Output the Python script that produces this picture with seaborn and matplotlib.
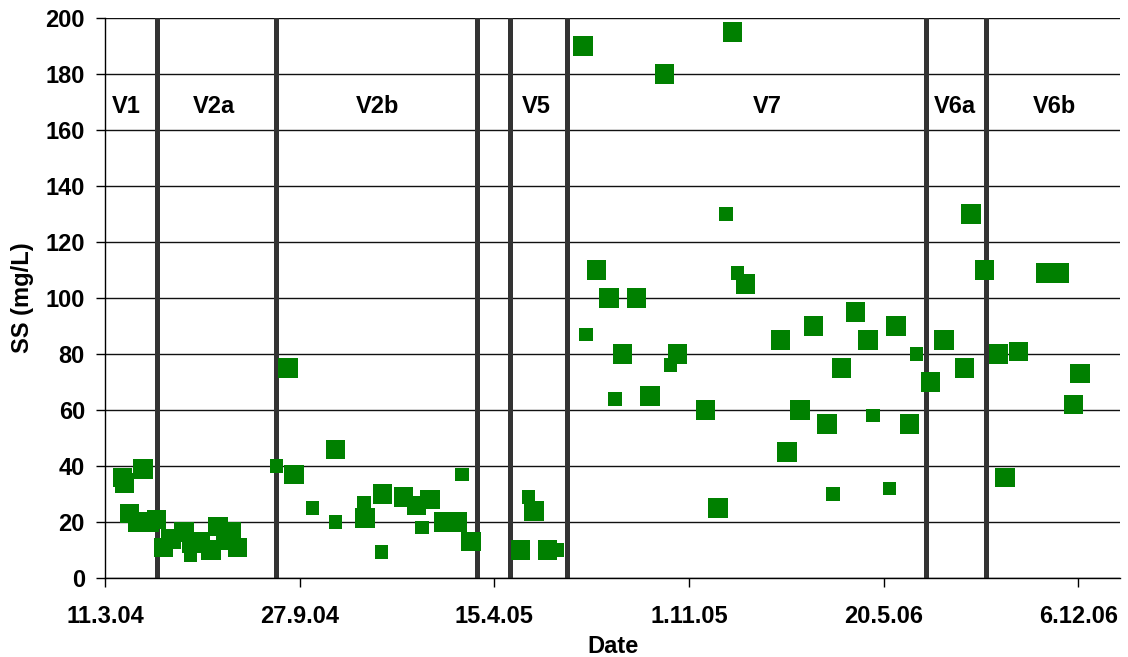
import matplotlib
matplotlib.use("Agg")
import matplotlib.pyplot as plt
import seaborn as sns
import pandas as pd

# ---- data ----
dates = [
    "2004-03-29", "2004-03-31", "2004-04-05", "2004-04-14", "2004-04-19", "2004-04-25",
    "2004-05-03", "2004-05-10", "2004-05-18", "2004-05-31", "2004-06-07", "2004-06-08",
    "2004-06-17", "2004-06-28", "2004-07-05", "2004-07-13", "2004-07-19", "2004-07-25",
    "2004-09-03", "2004-09-15", "2004-09-21", "2004-10-10", "2004-11-03", "2004-11-03",
    "2004-12-02", "2004-12-03", "2004-12-21", "2004-12-20", "2005-01-12", "2005-01-25",
    "2005-02-08", "2005-01-31", "2005-02-22", "2005-03-08", "2005-03-13", "2005-03-22",
    "2005-05-20", "2005-05-26", "2005-05-12", "2005-06-09", "2005-06-19",
    "2005-07-15", "2005-07-18", "2005-07-29", "2005-08-11", "2005-08-17", "2005-08-25",
    "2005-09-08", "2005-09-22", "2005-10-07", "2005-10-13", "2005-10-20", "2005-11-18",
    "2005-12-01", "2005-12-09", "2005-12-16", "2005-12-21", "2005-12-29", "2006-02-03",
    "2006-02-10", "2006-02-23", "2006-03-09", "2006-03-23", "2006-03-29", "2006-04-07",
    "2006-04-21", "2006-05-04", "2006-05-09", "2006-05-26", "2006-06-02", "2006-06-16",
    "2006-06-23",
    "2006-07-07", "2006-07-21", "2006-08-11", "2006-08-18", "2006-09-01",
    "2006-09-15", "2006-09-22", "2006-10-06", "2006-11-03", "2006-11-17", "2006-12-01",
    "2006-12-08",
]
ss_values = [
    36, 34, 23, 20, 39, 20,
    21, 11, 14, 16.5, 8, 12.5,
    13, 10, 18.5, 13.5, 16.5, 11,
    40, 75, 37, 25, 46, 20,
    27, 21.5, 30, 9.3, 29, 26,
    28, 18, 20, 20, 37, 13,
    29, 24, 10, 10, 10,
    190, 87, 110, 100, 64, 80,
    100, 65, 180, 76, 80, 60,
    25, 130, 195, 109, 105, 85,
    45, 60, 90, 55, 30, 75,
    95, 85, 58, 32, 90, 55,
    80,
    70, 85, 75, 130, 110,
    80, 36, 81, 109, 109, 62,
    73,
]
marker_kind = [
    "L", "L", "L", "L", "L", "L",
    "L", "L", "L", "L", "S", "L",
    "L", "L", "L", "L", "L", "L",
    "S", "L", "L", "S", "L", "S",
    "S", "L", "L", "S", "L", "L",
    "L", "S", "L", "L", "S", "L",
    "S", "L", "L", "L", "S",
    "L", "S", "L", "L", "S", "L",
    "L", "L", "L", "S", "L", "L",
    "L", "S", "L", "S", "L", "L",
    "L", "L", "L", "L", "S", "L",
    "L", "L", "S", "S", "L", "L",
    "S",
    "L", "L", "L", "L", "L",
    "L", "L", "L", "L", "L", "L",
    "L",
]
phase_boundaries = ["2004-05-03", "2004-09-03", "2005-03-28", "2005-05-01",
                    "2005-06-29", "2006-07-03", "2006-09-02"]
phase_names = ["V1", "V2a", "V2b", "V5", "V7", "V6a", "V6b"]
phase_label_dates = ["2004-04-02", "2004-07-01", "2004-12-16", "2005-05-28",
                     "2006-01-21", "2006-08-01", "2006-11-12"]
xtick_dates = ["2004-03-11", "2004-09-27", "2005-04-15", "2005-11-01",
               "2006-05-20", "2006-12-06"]
xtick_labels = ["11.3.04", "27.9.04", "15.4.05", "1.11.05", "20.5.06", "6.12.06"]
yticks = list(range(0, 201, 20))
x_limits = ["2004-03-11", "2007-01-18"]

df = pd.DataFrame({"Date": pd.to_datetime(dates), "SS": ss_values, "kind": marker_kind})

# ---- style ----
sns.set_theme(style="white")
plt.rcParams["font.family"] = ["Liberation Sans", "DejaVu Sans"]
plt.rcParams["font.weight"] = "bold"
plt.rcParams["text.color"] = "black"
plt.rcParams["axes.labelcolor"] = "black"
plt.rcParams["xtick.color"] = "black"
plt.rcParams["ytick.color"] = "black"

fig, ax = plt.subplots(figsize=(11.28, 6.57), dpi=100)
fig.subplots_adjust(left=0.0931, right=0.9929, bottom=0.1202, top=0.9726)

# horizontal grid
for y in yticks:
    ax.axhline(y, color="#111111", lw=1.0, zorder=1)

# phase boundaries
for b in phase_boundaries:
    ax.axvline(pd.Timestamp(b), color="#333333", lw=3.6, zorder=2)

sns.scatterplot(data=df, x="Date", y="SS", size="kind", sizes={"L": 195, "S": 95},
                marker="s", color="#008000", edgecolor="none", linewidth=0,
                legend=False, ax=ax, zorder=3)

for name, d in zip(phase_names, phase_label_dates):
    ax.text(pd.Timestamp(d), 168.5, name, ha="center", va="center",
            fontsize=17, fontweight="bold", color="black", zorder=4)

ax.set_xlim(pd.Timestamp(x_limits[0]), pd.Timestamp(x_limits[1]))
ax.set_ylim(0, 200)
ax.set_yticks(yticks)
ax.set_xticks([pd.Timestamp(d) for d in xtick_dates])
ax.set_xticklabels(xtick_labels)

for s in ["top", "right"]:
    ax.spines[s].set_visible(False)
for s in ["left", "bottom"]:
    ax.spines[s].set_color("black")
    ax.spines[s].set_linewidth(1.0)

ax.tick_params(axis="both", which="major", direction="out", length=6.5, width=1.0,
               color="black", labelcolor="black", labelsize=17, bottom=True, left=True)
ax.tick_params(axis="x", pad=13)
ax.tick_params(axis="y", pad=8)
for lab in ax.get_xticklabels() + ax.get_yticklabels():
    lab.set_fontweight("bold")

ax.set_xlabel("Date", fontsize=17, fontweight="bold", labelpad=5, color="black")
ax.set_ylabel("SS (mg/L)", fontsize=17, fontweight="bold", labelpad=8, color="black")

fig.savefig("out.png", dpi=100)
